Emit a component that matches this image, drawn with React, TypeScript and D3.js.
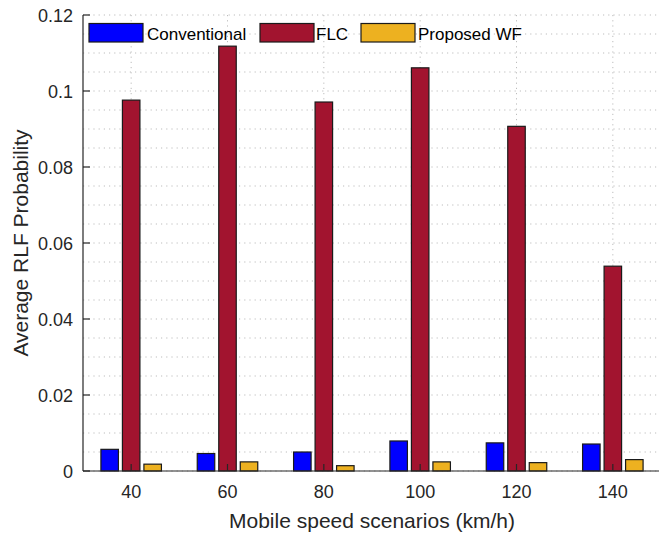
import React from "react";
import * as d3 from "d3";

// Speed scenarios (km/h) and average radio link failure probabilities
const speeds = [40, 60, 80, 100, 120, 140];
const seriesNames = ["Conventional", "FLC", "Proposed WF"];
const conventional = [0.0057, 0.0046, 0.005, 0.0079, 0.0074, 0.0071];
const flc = [0.0976, 0.1118, 0.0971, 0.1061, 0.0907, 0.0539];
const proposedWF = [0.0018, 0.0024, 0.0014, 0.0024, 0.0022, 0.003];
const yTicks = [0, 0.02, 0.04, 0.06, 0.08, 0.1, 0.12];
const colors = ["#0000FF", "#A2142F", "#EDB120"];

const W = 659;
const H = 534;
const left = 83;
const right = 661;
const top = 15;
const bottom = 471;
const tickLen = 7;
const axisColor = "#262626";
const font = "'Liberation Sans', Arial, Helvetica, sans-serif";

export default function App() {
  const x = d3.scaleLinear().domain([30, 150]).range([left, right]);
  const y = d3.scaleLinear().domain([0, 0.12]).range([bottom, top]);
  const sub = d3
    .scaleBand<string>()
    .domain(seriesNames)
    .range([-30.25, 30.25])
    .paddingInner(0.186)
    .paddingOuter(0);

  const values = [conventional, flc, proposedWF];
  const minorY = d3.range(0, 0.1201, 0.005);

  return (
    <svg
      width={W}
      height={H}
      style={{ position: "absolute", left: 0, top: 0, background: "#fff" }}
      fontFamily={font}
    >
      {/* grid */}
      <g stroke="#bdbdbd" strokeWidth={1} strokeDasharray="1.2 4">
        {minorY.map((v, i) => (
          <line key={"h" + i} x1={left} x2={W} y1={y(v)} y2={y(v)} />
        ))}
        {speeds.map((s) => (
          <line key={"v" + s} x1={x(s)} x2={x(s)} y1={top} y2={bottom} />
        ))}
      </g>

      {/* bars */}
      {values.map((vals, si) => (
        <g key={seriesNames[si]} fill={colors[si]} stroke="#1a1a1a" strokeWidth={1.2}>
          {vals.map((v, i) => (
            <rect
              key={i}
              x={x(speeds[i]) + (sub(seriesNames[si]) as number)}
              y={y(v)}
              width={sub.bandwidth()}
              height={y(0) - y(v)}
            />
          ))}
        </g>
      ))}

      {/* axes */}
      <g stroke={axisColor} strokeWidth={1.2}>
        <line x1={left} x2={W} y1={bottom} y2={bottom} />
        <line x1={left} x2={left} y1={top} y2={bottom} />
        {speeds.map((s) => (
          <line key={"tx" + s} x1={x(s)} x2={x(s)} y1={bottom} y2={bottom - tickLen} />
        ))}
        {yTicks.map((t) => (
          <line key={"ty" + t} x1={left} x2={left + tickLen} y1={y(t)} y2={y(t)} />
        ))}
      </g>

      <g fill={axisColor} fontSize={18}>
        {speeds.map((s) => (
          <text key={"lx" + s} x={x(s)} y={bottom + 27} textAnchor="middle">
            {s}
          </text>
        ))}
        {yTicks.map((t) => (
          <text key={"ly" + t} x={left - 10} y={y(t) + 6.5} textAnchor="end">
            {d3.format("~g")(t)}
          </text>
        ))}
        <text x={372} y={528} textAnchor="middle" fontSize={21}>
          Mobile speed scenarios (km/h)
        </text>
        <text
          transform={`translate(28, ${(top + bottom) / 2}) rotate(-90)`}
          textAnchor="middle"
          fontSize={21}
        >
          Average RLF Probability
        </text>
      </g>

      {/* legend */}
      {[
        { sx: 89, tx: 147 },
        { sx: 260, tx: 316 },
        { sx: 361, tx: 418 },
      ].map((p, i) => (
        <g key={"lg" + i}>
          <rect
            x={p.sx}
            y={23.5}
            width={54}
            height={18.5}
            fill={colors[i]}
            stroke="#1a1a1a"
            strokeWidth={1.2}
          />
          <text x={p.tx} y={39.5} fontSize={17} fill="#000">
            {seriesNames[i]}
          </text>
        </g>
      ))}
    </svg>
  );
}
